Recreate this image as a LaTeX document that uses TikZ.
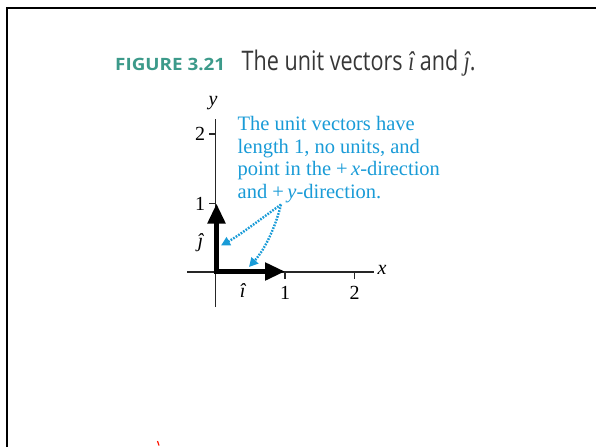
\documentclass[tikz,border=0pt]{standalone}
\usepackage{fontspec}
\setmainfont{Liberation Serif}
\newfontfamily\titlefont{Open Sans}
\usetikzlibrary{arrows.meta}
\definecolor{figteal}{RGB}{60,154,138}
\definecolor{noteblue}{RGB}{25,155,215}
\definecolor{titlegray}{RGB}{55,55,55}
\begin{document}
\begin{tikzpicture}[x=1pt,y=-1pt,
  axisline/.style={line width=1.3pt, black!85},
  tickline/.style={line width=1.1pt, black!85},
  lab/.style={inner sep=0pt, font=\fontsize{20}{22}\selectfont},
  vec/.style={line width=5pt, line join=miter, {Triangle[length=20pt,width=17pt]}-{Triangle[length=20pt,width=17pt]}},
  notearrow/.style={noteblue, line width=2.4pt, dash pattern=on 1.7pt off 1.3pt, -{Triangle[length=9pt,width=9pt]}}
]
\useasboundingbox (0,0) rectangle (596,447);
% frame
\coordinate (fa) at (7,447);
\coordinate (fb) at (7,8.3);
\coordinate (fc) at (597,8.3);
\draw[line width=2pt] (fa) -- (fb) -- (fc);
% title
\node[anchor=base west, inner sep=0pt, text=figteal] (fig) at (115,70)
  {\resizebox{110pt}{12.3pt}{\titlefont\bfseries FIGURE 3.21}};
\node[anchor=base west, inner sep=0pt, text=titlegray] (title) at (241.5,70)
  {\resizebox{234pt}{20.5pt}{\titlefont The unit vectors {\rmfamily\itshape î} and {\rmfamily\itshape ĵ}.}};
% axes
\coordinate (O) at (215.5,272);
\coordinate (xa) at (187,272);
\coordinate (xb) at (374,272);
\coordinate (ya) at (215.5,307);
\coordinate (yb) at (215.5,119);
\draw[axisline] (xa) -- (xb);
\draw[axisline] (ya) -- (yb);
% ticks
\coordinate (X1) at (285,272);
\coordinate (X2) at (354.5,272);
\coordinate (Y1) at (215.5,203.5);
\coordinate (Y2) at (215.5,134);
\draw[tickline] (X1) -- ++(0,7);
\draw[tickline] (X2) -- ++(0,7);
\draw[tickline] (Y1) -- ++(-7,0);
\draw[tickline] (Y2) -- ++(-7,0);
% labels
\node[lab] (ylab) at (213,103) {\textit{y}};
\node[lab] (xlab) at (382,270) {\textit{x}};
\node[lab] (t2y) at (200,134) {2};
\node[lab] (t1y) at (200,203.5) {1};
\node[lab] (t1x) at (285,293) {1};
\node[lab] (t2x) at (354.5,293) {2};
\node[lab] (jl) at (201,243) {\textit{ĵ}};
\node[lab] (il) at (243,291) {\textit{î}};
% unit vectors
\coordinate (V) at (216.5,271.5);
\coordinate (Vi) at (285,271.5);
\coordinate (Vj) at (216.5,203.5);
\draw[vec] (Vj) -- (V) -- (Vi);
% note
\node[anchor=north west, inner sep=0pt, align=left, text=noteblue,
  font=\fontsize{20.5}{22.7}\selectfont] (note) at (237.5,116)
  {The unit vectors have\\length 1, no units, and\\point in the +\,\textit{x}-direction\\and +\,\textit{y}-direction.};
\coordinate (S) at (281,204.5);
\coordinate (Aj) at (221,245.5);
\coordinate (Ai) at (249,267);
\draw[notearrow] (S) .. controls (258,221) and (240,235) .. (Aj);
\draw[notearrow] (S) .. controls (276,225) and (266,248) .. (Ai);
% small red mark
\coordinate (ra) at (157.5,441);
\coordinate (rb) at (159,445.5);
\draw[red!85!orange, line width=1.2pt] (ra) -- (rb);
\end{tikzpicture}
\end{document}
